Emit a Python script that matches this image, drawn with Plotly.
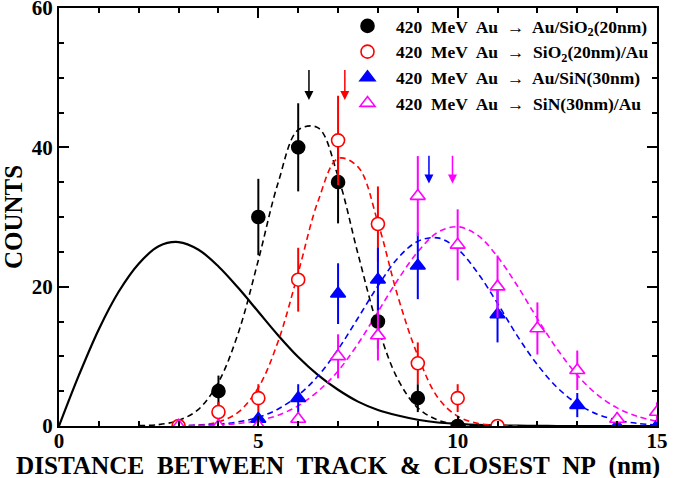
import numpy as np
import plotly.graph_objects as go

# ---------------- data ----------------
pts_x_black = [4, 5, 6, 7, 8, 9, 10]
pts_y_black = [5, 30, 40, 35, 15, 4, 0]

pts_x_red = [3, 4, 5, 6, 7, 8, 9, 10, 11]
pts_y_red = [0, 2, 4, 21, 41, 29, 9, 4, 0]

pts_x_blue = [5, 6, 7, 8, 9, 11, 13, 14, 15]
pts_y_blue = [1, 4, 19, 21, 23, 16, 3, 0, 0]

pts_x_mag = [3, 4, 5, 6, 7, 8, 9, 10, 11, 12, 13, 14, 15]
pts_y_mag = [0, 0, 0, 1, 10, 13, 33, 26, 20, 14, 8, 1, 2]

# solid curve (x = 0 .. 15 step 0.5)
solid_x = [i * 0.5 for i in range(31)]
solid_y = [0, 7.3, 13.9, 19.3, 23.3, 25.8, 26.4, 25.3, 22.9, 19.8, 16.4, 13.0,
           9.9, 7.3, 5.2, 3.5, 2.3, 1.5, 0.9, 0.5, 0.3, 0.15, 0.08, 0.04, 0.02,
           0, 0, 0, 0, 0, 0]

# dashed fit curves
black_fit_x = [2, 2.5, 3, 3.5, 4, 4.5, 5, 5.5, 6, 6.5, 7, 7.5, 8, 8.5, 9, 9.5, 10, 10.5]
black_fit_y = [0.05, 0.2, 0.8, 2.4, 6.3, 13.4, 23.8, 35.0, 42.5, 42.8, 35.8, 24.7,
               14.2, 6.7, 2.6, 0.86, 0.23, 0.05]

red_fit_x = [3, 3.5, 4, 4.5, 5, 5.5, 6, 6.5, 7, 7.5, 8, 8.5, 9, 9.5, 10, 10.5, 11, 11.5]
red_fit_y = [0.03, 0.14, 0.59, 2.0, 5.5, 12.2, 22.0, 32.3, 38.4, 37.2, 29.2, 18.6,
             10.1, 4.1, 1.4, 0.38, 0.09, 0.02]

blue_fit_x = [3, 3.5, 4, 4.5, 5, 5.5, 6, 6.5, 7, 7.5, 8, 8.5, 9, 9.5, 10, 10.5, 11,
              11.5, 12, 12.5, 13, 13.5, 14, 14.5, 15]
blue_fit_y = [0.04, 0.11, 0.26, 0.6, 1.26, 2.45, 4.4, 7.2, 11.0, 15.5, 20.1, 24.1,
              26.5, 27.0, 25.4, 22.0, 17.6, 12.9, 8.8, 5.5, 3.2, 1.7, 0.84, 0.38, 0.16]

mag_fit_x = [3, 3.5, 4, 4.5, 5, 5.5, 6, 6.5, 7, 7.5, 8, 8.5, 9, 9.5, 10, 10.5, 11,
             11.5, 12, 12.5, 13, 13.5, 14, 14.5, 15]
mag_fit_y = [0.02, 0.06, 0.16, 0.36, 0.78, 1.56, 2.9, 5.0, 7.9, 11.8, 16.4, 21.0,
             25.0, 27.8, 28.6, 27.4, 24.3, 20.1, 15.4, 11.0, 7.3, 4.5, 2.6, 1.4, 0.67]

# arrows marking the mean positions
arrow_x = [6.27, 7.17, 9.28, 9.87]
arrow_top = [51.3, 51.3, 39.0, 39.0]
arrow_tip = [46.8, 46.8, 34.8, 34.8]
arrow_colors = ["black", "red", "blue", "magenta"]

SP = "\u00a0"
legend_names = [
    f"420{SP} MeV{SP} Au{SP} \u2192{SP} Au/SiO<sub>2</sub>(20nm)",
    f"420{SP} MeV{SP} Au{SP} \u2192{SP} SiO<sub>2</sub>(20nm)/Au",
    f"420{SP} MeV{SP} Au{SP} \u2192{SP} Au/SiN(30nm)",
    f"420{SP} MeV{SP} Au{SP} \u2192{SP} SiN(30nm)/Au",
]

x_title = f"DISTANCE{SP} BETWEEN{SP} TRACK{SP} &{SP} CLOSEST{SP} NP{SP} (nm)"
y_title = "COUNTS"

x_ticks = [0, 5, 10, 15]
y_ticks = [0, 20, 40, 60]

FONT = "Liberation Serif"

fig = go.Figure()

# curves
fig.add_trace(go.Scatter(x=solid_x, y=solid_y, mode="lines", showlegend=False,
                         line=dict(color="black", width=2.2, shape="spline")))
for fx, fy, col in [(black_fit_x, black_fit_y, "black"),
                    (red_fit_x, red_fit_y, "red"),
                    (blue_fit_x, blue_fit_y, "blue"),
                    (mag_fit_x, mag_fit_y, "magenta")]:
    fig.add_trace(go.Scatter(x=fx, y=fy, mode="lines", showlegend=False,
                             line=dict(color=col, width=1.6, dash="6px,4px", shape="spline")))

# data points
series = [
    (pts_x_black, pts_y_black, "black", "circle", "black", legend_names[0]),
    (pts_x_red, pts_y_red, "red", "circle", "white", legend_names[1]),
    (pts_x_blue, pts_y_blue, "blue", "triangle-up", "blue", legend_names[2]),
    (pts_x_mag, pts_y_mag, "magenta", "triangle-up", "white", legend_names[3]),
]
for px, py, col, sym, fill, name in series:
    err = list(np.sqrt(py))
    fig.add_trace(go.Scatter(
        x=px, y=py, mode="markers", name=name,
        marker=dict(symbol=sym, size=13, color=fill, line=dict(color=col, width=1.6)),
        error_y=dict(type="data", array=err, visible=True, color=col, thickness=2, width=0),
    ))

for ax_, top, tip, col in zip(arrow_x, arrow_top, arrow_tip, arrow_colors):
    fig.add_annotation(x=ax_, y=tip, ax=ax_, ay=top, xref="x", yref="y",
                       axref="x", ayref="y", showarrow=True, arrowhead=2,
                       arrowsize=1.2, arrowwidth=1.5, arrowcolor=col, text="")

# x-axis title (centred on the whole figure, as in the original)
fig.add_annotation(text=x_title, xref="paper", yref="paper", x=0.467, y=-0.096,
                   xanchor="center", yanchor="middle", showarrow=False,
                   font=dict(family=FONT, size=25.2, color="black", weight="bold"))

axis_common = dict(
    showline=True, linecolor="black", linewidth=2, mirror="ticks",
    ticks="inside", ticklen=10, tickwidth=1.5, tickcolor="black",
    showgrid=False, zeroline=False, automargin=False,
    ticklabeloverflow="allow",
    tickfont=dict(family=FONT, size=21, color="black", weight="bold"),
)

fig.update_xaxes(range=[0, 15], tickvals=x_ticks, ticktext=[str(v) for v in x_ticks],
                 ticklabelstandoff=-5,
                 minor=dict(dtick=1, ticks="inside", ticklen=5, tickwidth=1.5, tickcolor="black"),
                 **axis_common)
fig.update_yaxes(range=[0, 60], tickvals=y_ticks, ticktext=[str(v) for v in y_ticks],
                 minor=dict(dtick=5, ticks="inside", ticklen=5, tickwidth=1.5, tickcolor="black"),
                 title=dict(text=y_title, standoff=8,
                            font=dict(family=FONT, size=25, color="black", weight="bold")),
                 **axis_common)

fig.update_layout(
    width=675, height=478,
    margin=dict(l=59, r=18, t=8, b=52),
    paper_bgcolor="white", plot_bgcolor="white",
    showlegend=True,
    legend=dict(x=0.995, xanchor="right", y=1.0, yanchor="top",
                bgcolor="rgba(0,0,0,0)", tracegroupgap=0, itemwidth=47,
                font=dict(family=FONT, size=17.5, color="black", weight="bold")),
)

fig.write_html("out.html", config={"displayModeBar": False},
               post_script="document.body.style.margin='0';")
